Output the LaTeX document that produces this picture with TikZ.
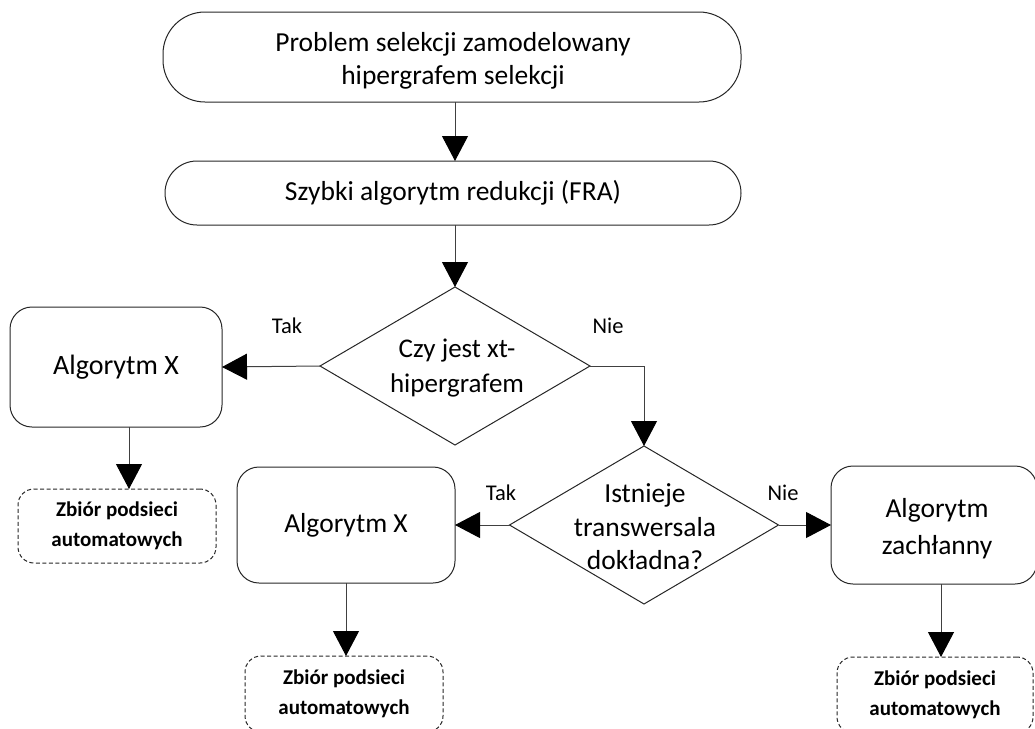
\documentclass[tikz,border=0pt]{standalone}
\usepackage{fontspec}
\setmainfont{Carlito}
\usetikzlibrary{arrows.meta,shapes.geometric}

\begin{document}
\begin{tikzpicture}[x=1pt,y=-1pt,
  line width=1pt,
  every node/.style={inner sep=0pt,outer sep=0pt},
  maintext/.style={font=\fontsize{27.5}{33}\selectfont,align=center},
  terminal/.style={draw=black!85,rectangle,maintext},
  procbox/.style={draw=black!85,rectangle,rounded corners=22pt,maintext},
  decision/.style={draw=black!85,diamond},
  resultbox/.style={draw=black!85,dashed,dash pattern=on 4pt off 2.5pt,rectangle,rounded corners=16pt,
    font=\fontsize{21}{30}\selectfont\bfseries,align=center},
  edgelabel/.style={font=\fontsize{22.5}{27}\selectfont},
  flow/.style={draw=black!75,-{Triangle[length=25pt,width=26pt,fill=black,color=black]}}
]
\useasboundingbox (0,0) rectangle (1035,728);

% start / preprocessing
\node[terminal,rounded corners=42pt,minimum width=578pt,minimum height=90pt] (start) at (452,57) {};
\node[maintext] (startt) at (453,61) {Problem selekcji zamodelowany\\hipergrafem selekcji};
\node[terminal,rounded corners=32pt,minimum width=576pt,minimum height=64pt] (fra) at (453,193)
  {Szybki algorytm redukcji (FRA)};

% first decision
\node[decision,minimum width=270pt,minimum height=158pt] (d1) at (455,366) {};
\node[maintext,font=\fontsize{27}{35}\selectfont] (d1t) at (457,368) {Czy jest xt-\\hipergrafem};

\node[procbox,minimum width=212pt,minimum height=120pt,font=\fontsize{28}{34}\selectfont] (ax1) at (116,367) {Algorytm X};
\node[resultbox,minimum width=198pt,minimum height=74pt] (z1) at (117,526)
  {Zbiór podsieci\\automatowych};

% second decision
\node[decision,minimum width=269pt,minimum height=158pt] (d2) at (644,525) {};
\node[maintext,font=\fontsize{27.5}{33.5}\selectfont] (d2t) at (645,527) {Istnieje\\transwersala\\dokładna?};

\node[procbox,minimum width=218pt,minimum height=116pt] (ax2) at (346,525) {Algorytm X};
\node[procbox,minimum width=206pt,minimum height=118pt] (gr) at (934,525) {};
\node[maintext,font=\fontsize{27.5}{37}\selectfont] (grt) at (937,529) {Algorytm\\zachłanny};

\node[resultbox,minimum width=198pt,minimum height=76pt] (z2) at (344,694)
  {Zbiór podsieci\\automatowych};
\node[resultbox,minimum width=196pt,minimum height=76pt] (z3) at (935,695)
  {Zbiór podsieci\\automatowych};

% edge labels
\node[edgelabel] (tak1) at (287,326) {Tak};
\node[edgelabel] (nie1) at (608,326) {Nie};
\node[edgelabel] (tak2) at (501,493) {Tak};
\node[edgelabel] (nie2) at (783,493) {Nie};

% connectors
\draw[flow] (start.south -| d1.north) -- (fra.north -| d1.north);
\draw[flow] (fra.south -| d1.north) -- (d1.north);
\draw[flow] (d1.west) -- (ax1.east);
\draw[flow] (ax1.south -| 129,0) -- (z1.north -| 129,0);
\draw[flow] (d1.east) -| (d2.north);
\draw[flow] (d2.west) -- (d2.west -| ax2.east);
\draw[flow] (d2.east) -- (d2.east -| gr.west);
\draw[flow] (ax2.south) -- (z2.north -| ax2.south);
\draw[flow] (gr.south -| 941,0) -- (z3.north -| 941,0);
\end{tikzpicture}
\end{document}
